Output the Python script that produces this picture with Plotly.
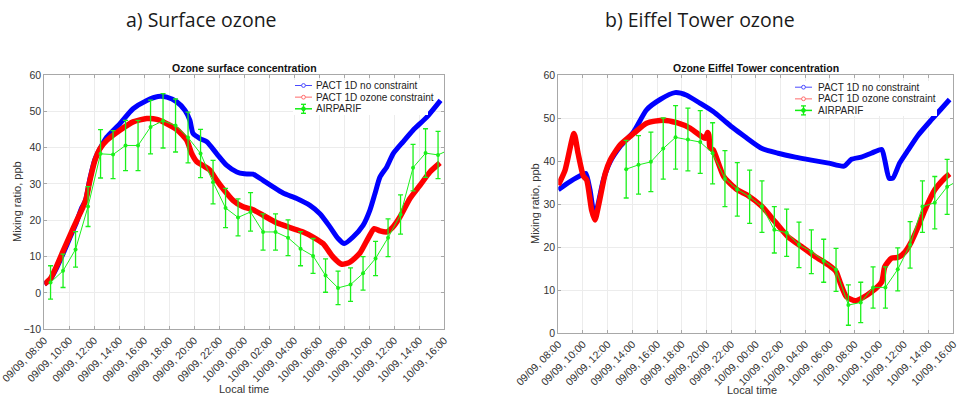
import plotly.graph_objects as go

W, H = 959, 401

tick_hours = list(range(0, 33, 2))
tick_labels = ["09/09, 08:00", "09/09, 10:00", "09/09, 12:00", "09/09, 14:00", "09/09, 16:00",
               "09/09, 18:00", "09/09, 20:00", "09/09, 22:00", "10/09, 00:00", "10/09, 02:00",
               "10/09, 04:00", "10/09, 06:00", "10/09, 08:00", "10/09, 10:00", "10/09, 12:00",
               "10/09, 14:00", "10/09, 16:00"]

# ---------- a) Surface ozone ----------
surf_blue_h = [0, 0.5, 1.0, 1.5, 2.0, 2.5, 3.0, 3.3, 3.65, 4.05, 4.5, 5.0, 6.05, 7.1, 8.2, 9.1, 9.8,
               10.6, 11.25, 11.65, 11.9, 12.45, 13.0, 13.8, 14.6, 15.4, 16.0, 16.7, 17.5, 18.3, 19.1,
               20.2, 21.25, 22.05, 22.85, 23.5, 24.0, 24.7, 25.5, 26.05, 26.45, 26.85, 27.4, 27.9,
               28.7, 29.5, 30.6, 31.7]
surf_blue_v = [2.4, 3.9, 7.0, 10.8, 14.8, 18.8, 23.5, 25.5, 31.5, 36.8, 40.0, 42.9, 46.6, 50.7, 53.0,
               54.1, 53.9, 52.6, 50.3, 47.5, 43.9, 42.5, 41.6, 38.3, 35.1, 33.3, 32.8, 32.7, 31.0,
               29.2, 27.5, 26.0, 24.1, 21.8, 18.2, 15.0, 13.6, 15.4, 18.6, 22.8, 27.3, 31.9, 34.7,
               38.3, 41.6, 44.8, 48.4, 53.0]

surf_red_h = [0, 0.5, 1.0, 1.5, 2.05, 2.6, 3.1, 3.35, 3.65, 4.05, 4.45, 5.0, 6.05, 7.1, 8.2, 9.0, 9.8,
              10.6, 11.4, 11.8, 12.2, 12.7, 13.25, 13.8, 14.3, 15.1, 15.9, 16.7, 17.5, 18.6, 19.65,
              20.7, 21.5, 22.3, 23.1, 23.8, 24.45, 25.25, 25.9, 26.4, 26.85, 27.4, 27.9, 28.45,
              29.25, 30.05, 30.85, 31.65]
surf_red_v = [2.4, 4.0, 7.5, 11.5, 15.8, 20.0, 23.7, 26.0, 31.0, 36.5, 39.7, 42.0, 44.8, 47.1, 48.0,
              47.8, 46.6, 45.0, 42.0, 38.3, 36.1, 35.1, 33.8, 31.0, 28.7, 25.5, 23.7, 22.9, 21.4,
              19.3, 18.0, 16.8, 15.4, 13.6, 9.9, 7.9, 8.5, 11.0, 15.0, 17.7, 17.1, 16.8, 18.2, 20.9,
              26.0, 29.6, 33.3, 35.8]

surf_obs_h = [h + 0.5 for h in range(33)]
surf_obs_v = [2.9, 6.1, 12.0, 23.8, 38.3, 38.1, 40.6, 40.6, 45.7, 47.4, 46.1, 42.8, 38.4, 30.5, 23.4,
              20.8, 22.3, 16.8, 16.8, 15.2, 12.2, 10.2, 4.8, 1.4, 2.3, 5.4, 9.5, 15.2, 21.6, 34.5,
              38.5, 38.0, 39.6]
surf_obs_err = [4.6, 4.6, 4.9, 5.5, 6.65, 6.6, 6.9, 6.9, 7.4, 7.5, 7.3, 7.0, 6.65, 6.0, 5.4, 5.1, 5.3,
                5.0, 5.0, 4.9, 4.7, 4.8, 4.6, 4.6, 4.6, 4.6, 4.7, 5.2, 5.4, 6.4, 6.7, 6.5, 6.6]

# ---------- b) Eiffel Tower ozone ----------
eiff_blue_h = [0, 0.95, 2.03, 2.24, 2.57, 2.95, 3.24, 3.65, 4.2, 5.0, 6.1, 7.15, 8.25, 9.45, 10.4,
               11.5, 12.55, 13.4, 14.2, 15.1, 16.5, 17.8, 19.2, 20.5, 21.9, 23.15, 23.75, 24.55,
               25.35, 26.2, 26.45, 26.8, 27.1, 27.65, 28.35, 29.15, 30.2, 31.05, 31.7]
eiff_blue_v = [33.3, 35.2, 36.9, 37.1, 33.3, 26.8, 30.2, 35.6, 39.8, 43.3, 46.8, 51.9, 54.3, 55.9,
               55.3, 53.4, 51.5, 49.5, 47.6, 45.7, 42.9, 41.8, 40.9, 40.2, 39.5, 38.8, 40.4, 40.9,
               41.8, 42.7, 40.2, 36.0, 36.0, 39.5, 42.6, 46.0, 49.5, 52.2, 54.3]

eiff_red_h = [0, 0.55, 1.27, 1.6, 2.03, 2.3, 2.7, 2.97, 3.3, 3.8, 4.2, 5.0, 6.1, 7.15, 8.5, 9.6, 10.7,
              11.6, 11.9, 12.1, 12.2, 12.3, 12.55, 13.4, 14.5, 15.3, 16.5, 17.55, 18.6, 19.7, 20.8,
              21.9, 22.5, 22.85, 23.35, 24.05, 24.6, 25.4, 26.2, 26.45, 27.0, 27.55, 28.1, 28.6,
              29.15, 29.7, 30.5, 31.3, 31.7]
eiff_red_v = [34.4, 37.9, 46.4, 41.8, 36.5, 35.6, 28.6, 26.3, 30.2, 37.1, 40.2, 43.7, 46.4, 48.8,
              49.5, 48.9, 47.6, 45.7, 45.3, 46.6, 46.0, 43.0, 42.6, 36.4, 33.3, 32.1, 29.4, 25.9,
              22.4, 20.1, 17.8, 15.8, 14.3, 11.6, 8.4, 7.5, 8.1, 9.6, 11.9, 15.4, 17.4, 17.6, 18.9,
              21.2, 24.7, 28.6, 33.3, 36.0, 37.0]

eiff_obs_h = [h + 0.5 for h in range(5, 33)]
eiff_obs_v = [38.1, 39.1, 39.8, 42.9, 45.5, 45.0, 44.4, 41.8, 35.9, 33.4, 31.7, 29.4, 24.0, 23.3,
              20.5, 18.9, 16.8, 14.7, 6.5, 7.1, 10.6, 10.6, 14.8, 20.5, 29.4, 30.3, 34.0, 35.6]
eiff_obs_err = [6.7, 6.8, 6.9, 7.1, 7.4, 7.3, 7.3, 7.1, 6.5, 6.2, 6.2, 6.0, 5.4, 5.5, 5.3, 5.1, 5.0,
                5.0, 4.7, 4.7, 4.8, 4.8, 5.0, 5.4, 6.0, 6.1, 6.4, 6.5]

series_names = ["PACT 1D no constraint", "PACT 1D ozone constraint", "AIRPARIF"]

BLUE = "#0000ff"
RED = "#ff0000"
GREEN = "#1bf01b"
FONT = "Liberation Sans, Arial, sans-serif"

fig = go.Figure()

panels = [
    ("x", "y", surf_blue_h, surf_blue_v, surf_red_h, surf_red_v, surf_obs_h, surf_obs_v, surf_obs_err),
    ("x2", "y2", eiff_blue_h, eiff_blue_v, eiff_red_h, eiff_red_v, eiff_obs_h, eiff_obs_v, eiff_obs_err),
]

for xa, ya, bh, bv, rh, rv, oh, ov, oe in panels:
    fig.add_trace(go.Scatter(x=bh, y=bv, xaxis=xa, yaxis=ya, mode="lines", name=series_names[0],
                             line=dict(color=BLUE, width=5, shape="spline", smoothing=0.6),
                             showlegend=False, hoverinfo="skip"))
    fig.add_trace(go.Scatter(x=rh, y=rv, xaxis=xa, yaxis=ya, mode="lines", name=series_names[1],
                             line=dict(color=RED, width=5.5, shape="spline", smoothing=0.6),
                             showlegend=False, hoverinfo="skip"))
    fig.add_trace(go.Scatter(x=oh, y=ov, xaxis=xa, yaxis=ya, mode="lines+markers", name=series_names[2],
                             line=dict(color=GREEN, width=1),
                             marker=dict(color=GREEN, size=4, symbol="circle"),
                             error_y=dict(type="data", array=oe, color=GREEN, thickness=1.3, width=2.5),
                             showlegend=False, hoverinfo="skip"))


def px_x(p):
    return p / W


def px_y(p):
    return 1 - p / H


axis_common = dict(showgrid=True, gridcolor="#ececec", gridwidth=1, zeroline=False,
                   showline=True, linecolor="#a8a8a8", linewidth=1, mirror="ticks",
                   ticks="inside", ticklen=3, tickcolor="#a8a8a8", ticklabeloverflow="allow",
                   tickfont=dict(family=FONT, size=10.5, color="#333333"), automargin=False)

fig.update_layout(
    width=W, height=H, margin=dict(l=0, r=0, t=0, b=0),
    paper_bgcolor="white", plot_bgcolor="white",
    font=dict(family=FONT, color="#222222"),
    showlegend=False,
    xaxis=dict(domain=[px_x(44.3), px_x(444.3)], range=[0, 32], anchor="y",
               tickvals=tick_hours, ticktext=tick_labels, tickangle=-45, **axis_common),
    yaxis=dict(domain=[px_y(329.3), px_y(75)], range=[-10, 60], anchor="x",
               tickvals=list(range(-10, 61, 10)), **axis_common),
    xaxis2=dict(domain=[px_x(558.3), px_x(953.3)], range=[0, 32], anchor="y2",
                tickvals=tick_hours, ticktext=tick_labels, tickangle=-45, **axis_common),
    yaxis2=dict(domain=[px_y(333), px_y(75)], range=[0, 60], anchor="x2",
                tickvals=list(range(0, 61, 10)), **axis_common),
)

annotations = [
    dict(text="a) Surface ozone", x=px_x(201), y=px_y(19), font=dict(family="Open Sans", size=19.5, color="#1a1a1a")),
    dict(text="b) Eiffel Tower ozone", x=px_x(700), y=px_y(19), font=dict(family="Open Sans", size=19.5, color="#1a1a1a")),
    dict(text="<b>Ozone surface concentration</b>", x=px_x(244), y=px_y(68), font=dict(family=FONT, size=10.5, color="#111111")),
    dict(text="<b>Ozone Eiffel Tower concentration</b>", x=px_x(756), y=px_y(68), font=dict(family=FONT, size=10.5, color="#111111")),
    dict(text="Mixing ratio, ppb", x=px_x(17), y=px_y(202), textangle=-90, font=dict(family=FONT, size=11, color="#333333")),
    dict(text="Mixing ratio, ppb", x=px_x(535), y=px_y(204), textangle=-90, font=dict(family=FONT, size=11, color="#333333")),
    dict(text="Local time", x=px_x(244), y=px_y(389), font=dict(family=FONT, size=11, color="#333333")),
    dict(text="Local time", x=px_x(752), y=px_y(390), font=dict(family=FONT, size=11, color="#333333")),
]
for a in annotations:
    a.update(xanchor="center", yanchor="middle")

# ---------- compact MATLAB-style legends (boxes drawn in pixel space) ----------
legend_boxes = [
    dict(box=(293, 80, 428, 115), icon=(295, 312), text_x=314, rows=(85.5, 97.2, 108.8)),
    dict(box=(793, 81, 937, 116), icon=(795, 812), text_x=815.5, rows=(87.2, 98.8, 110.4)),
]
icon_styles = [
    dict(line="#4a4aff", circle_fill="white", circle_line="#4a4aff", width=1, err=False),
    dict(line="#ff9c9c", circle_fill="white", circle_line="#ff6a6a", width=1.5, err=False),
    dict(line="#11ee11", circle_fill="#11ee11", circle_line="#11ee11", width=1.5, err=True),
]
shapes = []
for lb in legend_boxes:
    bx0, by0, bx1, by1 = lb["box"]
    shapes.append(dict(type="rect", xref="paper", yref="paper", x0=px_x(bx0), x1=px_x(bx1),
                       y0=px_y(by1), y1=px_y(by0), fillcolor="white", line=dict(width=0), layer="above"))
    ix0, ix1 = lb["icon"]
    cx = (ix0 + ix1) / 2
    for name, ry, st in zip(series_names, lb["rows"], icon_styles):
        shapes.append(dict(type="line", xref="paper", yref="paper", x0=px_x(ix0), x1=px_x(ix1),
                           y0=px_y(ry), y1=px_y(ry), line=dict(color=st["line"], width=st["width"]),
                           layer="above"))
        if st["err"]:
            shapes.append(dict(type="line", xref="paper", yref="paper", x0=px_x(cx), x1=px_x(cx),
                               y0=px_y(ry - 4.5), y1=px_y(ry + 4.5),
                               line=dict(color=st["line"], width=1.3), layer="above"))
            for dy in (-4.5, 4.5):
                shapes.append(dict(type="line", xref="paper", yref="paper", x0=px_x(cx - 2.5),
                                   x1=px_x(cx + 2.5), y0=px_y(ry + dy), y1=px_y(ry + dy),
                                   line=dict(color=st["line"], width=1.3), layer="above"))
        r = 1.9
        shapes.append(dict(type="circle", xref="paper", yref="paper", x0=px_x(cx - r), x1=px_x(cx + r),
                           y0=px_y(ry + r), y1=px_y(ry - r), fillcolor=st["circle_fill"],
                           line=dict(color=st["circle_line"], width=1), layer="above"))
        annotations.append(dict(text=name, x=px_x(lb["text_x"]), y=px_y(ry), xanchor="left",
                                yanchor="middle", font=dict(family=FONT, size=10, color="#222222")))

for a in annotations:
    a.update(xref="paper", yref="paper", showarrow=False)
fig.update_layout(annotations=annotations, shapes=shapes)

fig.write_html("out.html", config={"displayModeBar": False, "staticPlot": True},
               post_script="document.body.style.margin='0px';")
